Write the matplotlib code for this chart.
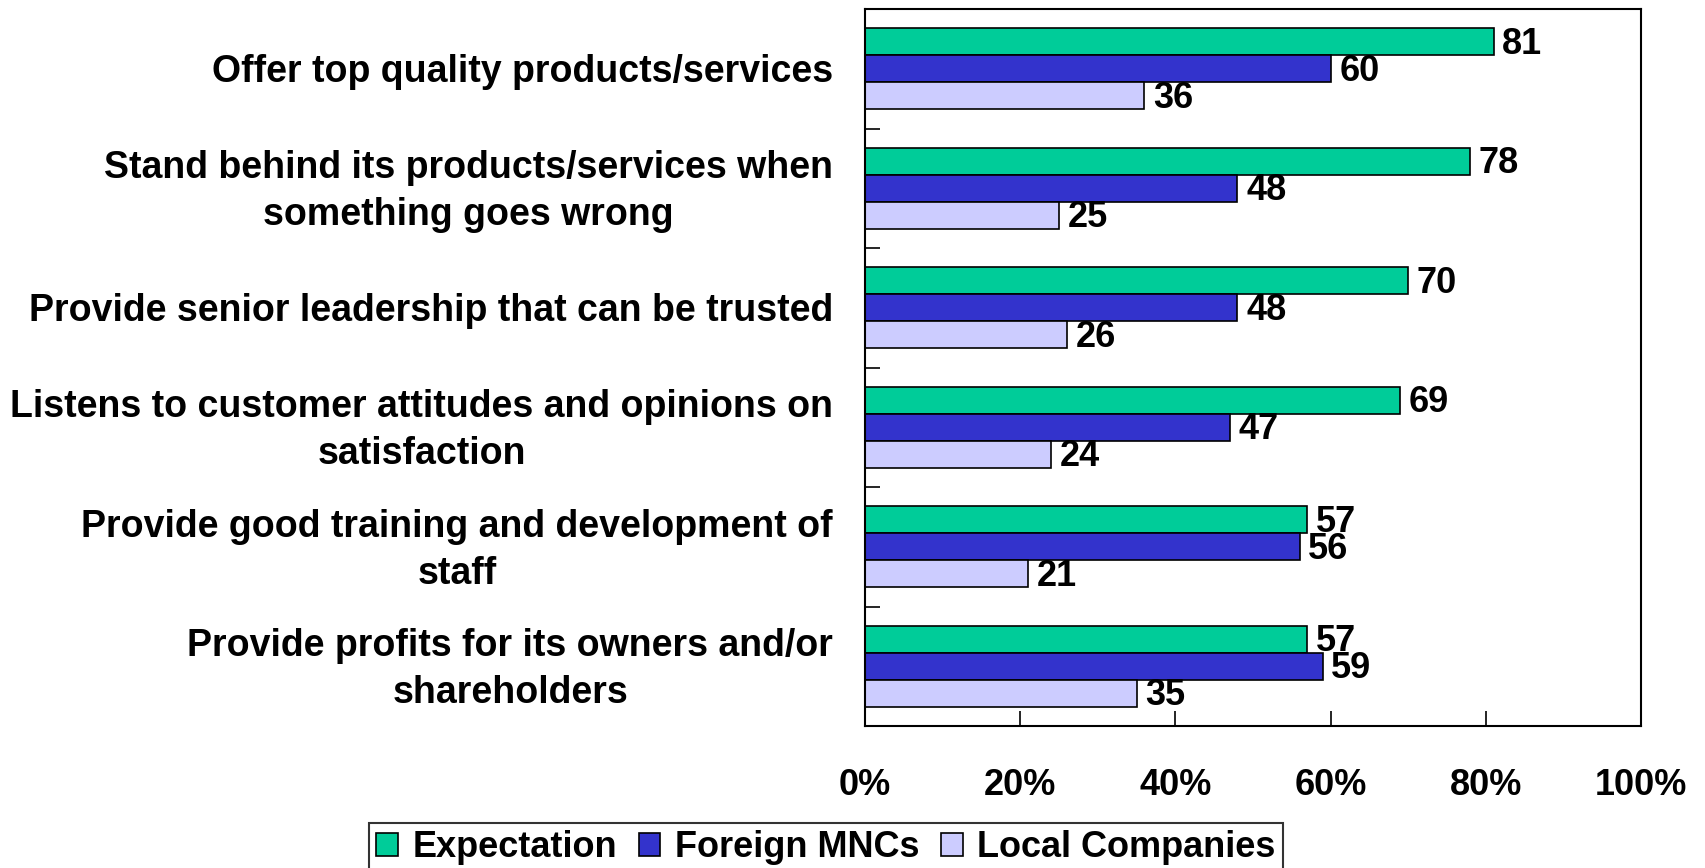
import matplotlib
matplotlib.use("Agg")
import matplotlib.pyplot as plt
import matplotlib.transforms as mtransforms
import numpy as np

plt.rcParams["font.family"] = ["Liberation Sans", "DejaVu Sans"]
plt.rcParams["font.weight"] = "bold"

categories = [
    "Offer top quality products/services",
    "Stand behind its products/services when\nsomething goes wrong",
    "Provide senior leadership that can be trusted",
    "Listens to customer attitudes and opinions on\nsatisfaction",
    "Provide good training and development of\nstaff",
    "Provide profits for its owners and/or\nshareholders",
]
expectation = [81, 78, 70, 69, 57, 57]
foreign_mncs = [60, 48, 48, 47, 56, 59]
local_cos = [36, 25, 26, 24, 21, 35]
series_names = ["Expectation", "Foreign MNCs", "Local Companies"]
colors = ["#00CC99", "#3333CC", "#CCCCFF"]
xticks = [0, 20, 40, 60, 80, 100]

fig = plt.figure(figsize=(17.06, 8.68), dpi=100)
ax = fig.add_axes([865 / 1706, 1 - 726 / 868, (1641 - 865) / 1706, (726 - 9) / 868])

y = np.arange(len(categories))
h = 0.225
for k, (vals, name, col) in enumerate(zip([expectation, foreign_mncs, local_cos], series_names, colors)):
    pos = y + (k - 1) * h
    ax.barh(pos, vals, height=h, color=col, edgecolor="black", lw=1.2, label=name)
    for p, v in zip(pos, vals):
        ax.text(v + 1.1, p + 0.02, f"{v}", va="center", ha="left", fontsize=26, fontweight="bold")

ax.set_xlim(0, 100)
ax.set_ylim(len(categories) - 0.5, -0.5)
ax.set_xticks(xticks)
ax.set_xticklabels([f"{t}%" for t in xticks], fontsize=26, fontweight="bold")
ax.tick_params(axis="x", direction="in", length=11, width=1.2, pad=30)
ax.set_yticks(y)
ax.set_yticklabels(categories, fontsize=27, fontweight="bold", multialignment="center",
                   linespacing=1.38, va="center")
ax.tick_params(axis="y", length=0, pad=23)
shift = mtransforms.ScaledTranslation(0, -3.5 / 100, fig.dpi_scale_trans)
for lab in ax.get_yticklabels():
    lab.set_transform(lab.get_transform() + shift)
ax.set_yticks(np.arange(len(categories) - 1) + 0.5, minor=True)
ax.tick_params(axis="y", which="minor", direction="in", length=11, width=1.2)
for s in ax.spines.values():
    s.set_linewidth(1.5)

leg = fig.legend(loc="upper center", bbox_to_anchor=(826 / 1706, 1 - 823 / 868), ncol=3,
                 frameon=True, fancybox=False, edgecolor="black", borderaxespad=0,
                 handlelength=0.6, handleheight=0.6, handletextpad=0.4, columnspacing=0.6,
                 borderpad=0.2, prop={"weight": "bold", "size": 26})
leg.get_frame().set_linewidth(1.5)

fig.savefig("out.png", dpi=100)
